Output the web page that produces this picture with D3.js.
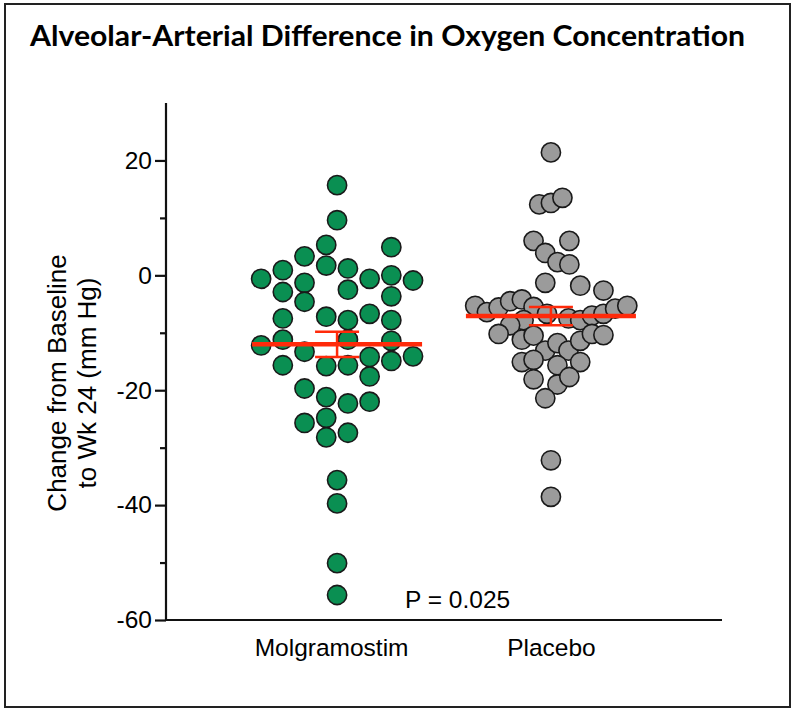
<!DOCTYPE html>
<html>
<head>
<meta charset="utf-8">
<script src="https://cdn.jsdelivr.net/npm/d3@7"></script>
<style>
  html, body { margin: 0; padding: 0; background: #fff; }
  svg { display: block; }
</style>
</head>
<body>
<svg id="chart" width="795" height="714"></svg>
<script>
// ---------------- DATA ----------------
const chartTitle = "Alveolar-Arterial Difference in Oxygen Concentration";
const yAxisTitle = ["Change from Baseline", "to Wk 24 (mm Hg)"];
const categories = ["Molgramostim", "Placebo"];

// Change from baseline values (mm Hg)
const molgramostimValues = [
  15.7, 9.6, 5.3, 4.9, 3.3, 1.7, 1.2, 0.9, -0.6, -0.6, 0.0, -0.9,
  -2.9, -1.3, -2.5, -3.65, -4.6, -7.5, -7.2, -7.8, -6.7, -7.8,
  -12.2, -11.2, -13.3, -11.2, -11.4, -15.65, -15.8, -15.65, -14.2, -14.9, -14.1,
  -17.6, -19.7, -21.2, -22.3, -22.0, -25.7, -24.8, -28.2, -27.4,
  -35.65, -39.7, -50.1, -55.65
];
// horizontal swarm offset of each dot, in dot-diameter units
const molgramostimJitter = [
  0, 0, -0.5, 2.5, -1.5, -0.5, 0.5, -2.5, -3.5, 1.5, 2.5, 3.5,
  -2.5, -1.5, 0.5, 2.5, -1.5, -2.5, -0.5, 0.5, 1.5, 2.5,
  -3.5, -2.5, -1.5, 0.5, 2.5, -2.5, -0.5, 0.5, 1.5, 2.5, 3.5,
  1.5, -1.5, -0.5, 0.5, 1.5, -1.5, -0.5, -0.5, 0.5,
  0, 0, 0, 0
];

const placeboValues = [
  21.4, 12.35, 12.6, 13.5, 6.0, 6.0, 3.9, 2.3, 1.9, -1.3, -1.8, -2.65,
  -5.3, -6.4, -5.6, -4.5, -4.2, -5.5, -7.8, -6.7, -7.5, -7.8, -7.0, -6.7, -5.8, -5.3,
  -8.7, -10.2, -11.2, -10.5, -13.1, -11.8, -13.1, -11.4, -10.2, -10.4,
  -15.1, -14.7, -15.65, -15.1, -18.1, -19.0, -17.7, -21.4, -32.2, -38.55
];
const placeboJitter = [
  0, -0.54, 0, 0.53, -0.80, 0.85, -0.26, 0.30, 0.85, -0.26, 1.35, 2.42,
  -3.49, -2.95, -2.41, -1.88, -1.34, -0.80, -1.26, -0.18, 0.81, 1.35, 1.89, 2.42, 2.96, 3.52,
  -1.88, -2.41, -1.34, -0.80, -0.26, 0.30, 0.81, 1.35, 1.89, 2.42,
  -1.34, -0.80, 0.30, 1.35, -0.80, 0.30, 0.85, -0.26, 0, 0
];

const groupMeans = [-12.0, -7.1];
const groupSEM = [2.2, 1.6];

const yDomain = [-60, 30];
const yMajorTicks = [-60, -40, -20, 0, 20];
const yMinorTicks = [-50, -30, -10, 10];
const pValueText = "P = 0.025";

// ---------------- STYLE / LAYOUT ----------------
const W = 795, H = 714;
const plot = { left: 166, right: 722, top: 103, bottom: 620 };
const groupColors = ["#0a8f52", "#9b9b9b"];
const meanColor = "#ff2a0a";
const dotR = 9.6;
const sansFont = "'Liberation Sans', Arial, Helvetica, sans-serif";

const svg = d3.select("#chart");

// frame
svg.append("rect")
  .attr("x", 5).attr("y", 4).attr("width", 785).attr("height", 703)
  .attr("fill", "none").attr("stroke", "#222").attr("stroke-width", 2);

// title
svg.append("text")
  .attr("x", 30).attr("y", 46)
  .attr("textLength", 715).attr("lengthAdjust", "spacingAndGlyphs")
  .style("font-family", "Lato, 'Open Sans', sans-serif")
  .style("font-weight", 700).style("font-size", "28.5px")
  .attr("fill", "#000")
  .text(chartTitle);

// scales
const y = d3.scaleLinear().domain(yDomain).range([plot.bottom, plot.top]);
const x = d3.scalePoint().domain(categories).range([plot.left, plot.right]).padding(0.8);
const jitter = d3.scaleLinear().domain([0, 1]).range([0, 21.7]);

// y axis (major)
const yAxisG = svg.append("g").attr("transform", `translate(${plot.left},0)`);
yAxisG.call(d3.axisLeft(y).tickValues(yMajorTicks).tickSize(11).tickPadding(3).tickFormat(d => String(d)));
yAxisG.select(".domain").attr("stroke", "#111").attr("stroke-width", 2.2)
  .attr("d", `M0,${plot.top}V${plot.bottom}`);
yAxisG.selectAll(".tick line").attr("stroke", "#111").attr("stroke-width", 2.2);
yAxisG.selectAll(".tick text")
  .style("font-family", sansFont).style("font-size", "24.5px").attr("fill", "#000");
// minor ticks
const yMinorG = svg.append("g").attr("transform", `translate(${plot.left},0)`);
yMinorG.call(d3.axisLeft(y).tickValues(yMinorTicks).tickSize(6).tickFormat(""));
yMinorG.select(".domain").remove();
yMinorG.selectAll(".tick line").attr("stroke", "#111").attr("stroke-width", 2.2);

// x axis
const xAxisG = svg.append("g").attr("transform", `translate(0,${plot.bottom})`);
xAxisG.call(d3.axisBottom(x).tickSize(0).tickPadding(19));
xAxisG.select(".domain").attr("stroke", "#111").attr("stroke-width", 2.2)
  .attr("d", `M${plot.left},0H${plot.right}`);
xAxisG.selectAll(".tick text")
  .style("font-family", sansFont).style("font-size", "24.5px").attr("fill", "#000")
  .attr("dy", "0.71em");
xAxisG.selectAll(".tick").filter(d => d === categories[0]).select("text").attr("dx", -6);

// y axis title
const yt = svg.append("text")
  .attr("transform", "translate(0,383) rotate(-90)")
  .attr("text-anchor", "middle")
  .style("font-family", sansFont).style("font-size", "26px").attr("fill", "#000");
yt.append("tspan").attr("x", 0).attr("y", 66).text(yAxisTitle[0]);
yt.append("tspan").attr("x", 0).attr("y", 96).text(yAxisTitle[1]);

// dots
const groups = [
  { cat: categories[0], values: molgramostimValues, jit: molgramostimJitter, color: groupColors[0] },
  { cat: categories[1], values: placeboValues, jit: placeboJitter, color: groupColors[1] }
];
groups.forEach(g => {
  const pts = g.values.map((v, i) => ({ v, j: g.jit[i] }));
  svg.append("g").selectAll("circle").data(pts).join("circle")
    .attr("cx", d => x(g.cat) + jitter(d.j))
    .attr("cy", d => y(d.v))
    .attr("r", dotR)
    .attr("fill", g.color)
    .attr("stroke", "#1a1a1a")
    .attr("stroke-width", 1.6);
});

// mean + SEM
const meanHalf = 85, capHalf = 22;
categories.forEach((c, i) => {
  const cx = x(c);
  const g = svg.append("g");
  g.append("line")
    .attr("x1", cx).attr("x2", cx)
    .attr("y1", y(groupMeans[i] + groupSEM[i])).attr("y2", y(groupMeans[i] - groupSEM[i]))
    .attr("stroke", meanColor).attr("stroke-width", 2.5);
  [1, -1].forEach(s => {
    g.append("line")
      .attr("x1", cx - capHalf).attr("x2", cx + capHalf)
      .attr("y1", y(groupMeans[i] + s * groupSEM[i])).attr("y2", y(groupMeans[i] + s * groupSEM[i]))
      .attr("stroke", meanColor).attr("stroke-width", 2.5);
  });
  g.append("line")
    .attr("x1", cx - meanHalf).attr("x2", cx + meanHalf)
    .attr("y1", y(groupMeans[i])).attr("y2", y(groupMeans[i]))
    .attr("stroke", meanColor).attr("stroke-width", 4.5);
});

// p value
svg.append("text")
  .attr("x", 405).attr("y", 608)
  .style("font-family", sansFont).style("font-size", "24.5px").attr("fill", "#000")
  .text(pValueText);
</script>
</body>
</html>
